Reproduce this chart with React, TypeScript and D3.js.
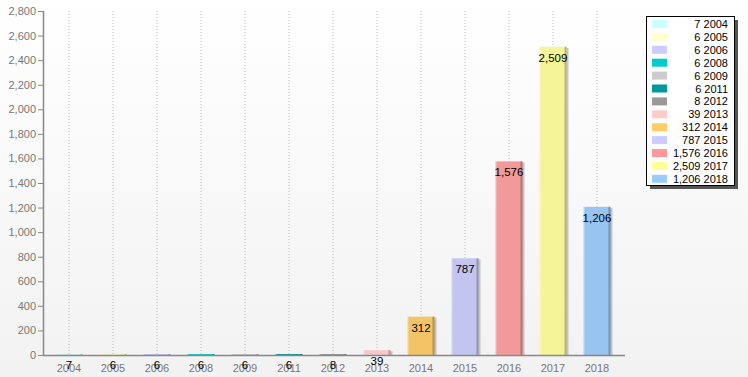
import React from "react";
import * as d3 from "d3";

const categories = ["2004","2005","2006","2008","2009","2011","2012","2013","2014","2015","2016","2017","2018"];
const values = [7,6,6,6,6,6,8,39,312,787,1576,2509,1206];
const barColors = ["#c8f4f4","#f4f0c0","#c8c8f4","#10cccc","#cccccc","#0a9898","#999999","#f8c8c8","#f2c466","#c4c4f0","#f29a9a","#f4f498","#98c4f2"];
const legendColors = ["#ccffff","#ffffcc","#ccccff","#00cccc","#cccccc","#009999","#999999","#ffcccc","#ffcc66","#ccccff","#ff9999","#ffff99","#99ccff"];
const yTicks = [0,200,400,600,800,1000,1200,1400,1600,1800,2000,2200,2400,2600,2800];

const W = 748, H = 377;
const FONT = "Liberation Sans, Arial, sans-serif";

export default function App() {
  const x = d3.scaleBand<string>().domain(categories).range([47, 619]).paddingInner(0.38).paddingOuter(0.19);
  const y = d3.scaleLinear().domain([0, 2800]).range([355, 11]);
  const fmt = d3.format(",");
  const bw = 27;
  return (
    <div style={{ position: "absolute", left: 0, top: 0 }}>
      <svg width={W} height={H} style={{ display: "block" }}>
        <defs>
          <linearGradient id="bg" x1="0" y1="0" x2="0" y2="1">
            <stop offset="0" stopColor="#ffffff" />
            <stop offset="1" stopColor="#f2f2f2" />
          </linearGradient>
        </defs>
        <rect x={0} y={0} width={W} height={H} fill="url(#bg)" />
        {categories.map((c) => {
          const cx = (x(c) as number) + x.bandwidth() / 2;
          return <line key={"g" + c} x1={cx} x2={cx} y1={11} y2={355} stroke="#bbbbbb" strokeDasharray="1,2" />;
        })}
        {categories.map((c, i) => {
          const cx = (x(c) as number) + x.bandwidth() / 2;
          const top = y(values[i]);
          const h = Math.max(355 - top, 1);
          const x0 = cx - bw / 2;
          return (
            <g key={"b" + c}>
              <rect x={x0 + 2} y={355 - h + 1} width={bw} height={h - 1} fill="#9a9a9a" opacity={0.55} />
              <rect x={x0} y={355 - h} width={bw} height={h} fill={barColors[i]} />
              <rect x={x0 + bw - 2} y={355 - h} width={2} height={h} fill="#000" opacity={0.25} />
              <rect x={x0} y={355 - h} width={1} height={h} fill="#fff" opacity={0.4} />
            </g>
          );
        })}
        <line x1={43} x2={625} y1={355.5} y2={355.5} stroke="#888" strokeWidth={1.5} />
        <line x1={43.5} x2={43.5} y1={11} y2={356} stroke="#888" strokeWidth={1.5} />
        {yTicks.map((t) => (
          <g key={"t" + t}>
            <line x1={38} x2={43} y1={y(t) + 0.5} y2={y(t) + 0.5} stroke="#888" />
            <text x={36} y={y(t) + 4} textAnchor="end" fontSize={11} fill="#777" fontFamily={FONT}>{fmt(t)}</text>
          </g>
        ))}
        {categories.map((c) => {
          const cx = (x(c) as number) + x.bandwidth() / 2;
          return <text key={"xl" + c} x={cx} y={372} textAnchor="middle" fontSize={11} fill="#777" fontFamily={FONT}>{c}</text>;
        })}
        {categories.map((c, i) => {
          const cx = (x(c) as number) + x.bandwidth() / 2;
          return <text key={"v" + c} x={cx} y={y(values[i]) + 15} textAnchor="middle" fontSize={11.5} fill="#000" fontFamily={FONT}>{fmt(values[i])}</text>;
        })}
        <g>
          <rect x={650} y={20} width={88} height={169} fill="#555" />
          <rect x={646.5} y={16.5} width={88} height={169} fill="#fff" stroke="#000" />
          {categories.map((c, i) => {
            const cy = 24 + i * 12.9;
            return (
              <g key={"l" + c}>
                <rect x={652} y={cy - 4} width={15} height={8} fill={legendColors[i]} />
                <text x={728} y={cy + 4} textAnchor="end" fontSize={11} fill="#000" fontFamily={FONT}>{fmt(values[i]) + " " + c}</text>
              </g>
            );
          })}
        </g>
      </svg>
    </div>
  );
}
